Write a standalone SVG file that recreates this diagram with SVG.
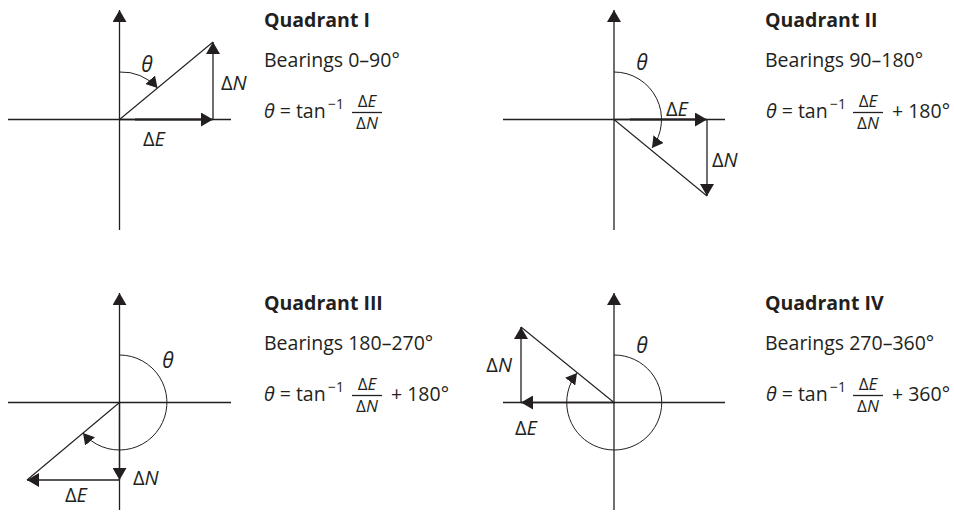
<svg xmlns="http://www.w3.org/2000/svg" width="954" height="512" viewBox="0 0 954 512">
<defs>
<marker id="ah" markerUnits="userSpaceOnUse" viewBox="0 0 12 14" refX="12" refY="7" markerWidth="12" markerHeight="14" orient="auto">
<path d="M0,0 L12,7 L0,14 z" fill="#231f20"/>
</marker>
<marker id="ahs" markerUnits="userSpaceOnUse" viewBox="0 0 12 14" refX="12" refY="7" markerWidth="11" markerHeight="13" orient="auto">
<path d="M0,0 L12,7 L0,14 z" fill="#231f20"/>
</marker>
</defs>
<style>
.ax{stroke:#231f20;stroke-width:1.3;fill:none}
.ln{stroke:#231f20;stroke-width:1.1;fill:none}
.vec{stroke:#231f20;stroke-width:1.3;fill:none;marker-end:url(#ah)}
.thick{stroke:#231f20;stroke-width:2.2;fill:none}
.arc{stroke:#231f20;stroke-width:1;fill:none;marker-end:url(#ahs)}
text{font-family:"Open Sans","Noto Sans","DejaVu Sans",sans-serif;fill:#231f20}
.title{font-size:19.5px;font-weight:bold}
.body{font-size:19.5px}
.lab{font-size:20px}
.th{font-size:21px;font-style:italic}
.frac{font-size:17px;text-anchor:middle}
.sup{font-size:14px}
.it{font-style:italic}
.fl{stroke:#231f20;stroke-width:1.3}
</style>

<g id="quadrant1">
<g id="q1-axes">
<path class="ax" d="M8,119.5 H231"/>
<path class="vec" d="M119.5,230 V10"/>
</g>
<g id="q1-connectors">
<path class="ln" d="M119.5,119.5 L213,42"/>
<path class="vec" d="M213,119.5 V42"/>
<path class="vec" d="M119.5,119.5 H213"/>
<path class="thick" d="M135,119.5 H201"/>
<path class="arc" d="M119.5,72 A47.5,47.5 0 0 1 157.5,88"/>
</g>
<text class="th" x="147" y="72" text-anchor="middle">θ</text>
<text class="lab" x="221" y="90">Δ<tspan class="it">N</tspan></text>
<text class="lab" x="143" y="146">Δ<tspan class="it">E</tspan></text>
<g id="q1-text">
<text class="title" x="264" y="27">Quadrant I</text>
<text class="body" x="264" y="67">Bearings 0–90°</text>
<text class="body" x="264" y="118"><tspan class="it">θ</tspan> = tan</text>
<text class="sup" x="328" y="109">−1</text>
<text class="frac" x="367" y="107">Δ<tspan class="it">E</tspan></text>
<line class="fl" x1="352" y1="112.5" x2="382" y2="112.5"/>
<text class="frac" x="367" y="129">Δ<tspan class="it">N</tspan></text>
</g>
</g>

<g id="quadrant2">
<g id="q2-axes">
<path class="ax" d="M503,119.5 H725"/>
<path class="vec" d="M614,230 V10"/>
</g>
<g id="q2-connectors">
<path class="ln" d="M614,119.5 L707,196"/>
<path class="vec" d="M707,119.5 V196"/>
<path class="vec" d="M614,119.5 H707"/>
<path class="thick" d="M630,119.5 H695"/>
<path class="arc" d="M614,72 A47.5,47.5 0 0 1 652,148"/>
</g>
<text class="th" x="642" y="70" text-anchor="middle">θ</text>
<text class="lab" x="666" y="116">Δ<tspan class="it">E</tspan></text>
<text class="lab" x="712" y="167">Δ<tspan class="it">N</tspan></text>
<g id="q2-text">
<text class="title" x="765" y="27">Quadrant II</text>
<text class="body" x="765" y="67">Bearings 90–180°</text>
<text class="body" x="766" y="118"><tspan class="it">θ</tspan> = tan</text>
<text class="sup" x="830" y="109">−1</text>
<text class="frac" x="868" y="107">Δ<tspan class="it">E</tspan></text>
<line class="fl" x1="853" y1="112.5" x2="883" y2="112.5"/>
<text class="frac" x="868" y="129">Δ<tspan class="it">N</tspan></text>
<text class="body" x="892" y="118">+ 180°</text>
</g>
</g>

<g id="quadrant3">
<g id="q3-axes">
<path class="ax" d="M8,402.5 H231"/>
<path class="vec" d="M119.5,510 V293"/>
</g>
<g id="q3-connectors">
<path class="ln" d="M119.5,402.5 L27,480"/>
<path class="vec" d="M119.5,402.5 V480"/>
<path class="vec" d="M119.5,480 H27"/>
<path class="arc" d="M119.5,355 A47.5,47.5 0 1 1 83,433"/>
</g>
<text class="th" x="168" y="368" text-anchor="middle">θ</text>
<text class="lab" x="133" y="485">Δ<tspan class="it">N</tspan></text>
<text class="lab" x="65" y="502">Δ<tspan class="it">E</tspan></text>
<g id="q3-text">
<text class="title" x="264" y="310">Quadrant III</text>
<text class="body" x="264" y="350">Bearings 180–270°</text>
<text class="body" x="264" y="401"><tspan class="it">θ</tspan> = tan</text>
<text class="sup" x="328" y="392">−1</text>
<text class="frac" x="367" y="390">Δ<tspan class="it">E</tspan></text>
<line class="fl" x1="352" y1="395.5" x2="382" y2="395.5"/>
<text class="frac" x="367" y="412">Δ<tspan class="it">N</tspan></text>
<text class="body" x="391" y="401">+ 180°</text>
</g>
</g>

<g id="quadrant4">
<g id="q4-axes">
<path class="ax" d="M503,402.5 H725"/>
<path class="vec" d="M614,510 V293"/>
</g>
<g id="q4-connectors">
<path class="ln" d="M614,402.5 L521,327"/>
<path class="vec" d="M614,402.5 H521"/>
<path class="vec" d="M521,402.5 V327"/>
<path class="arc" d="M614,355 A47.5,47.5 0 1 1 577,373"/>
</g>
<text class="th" x="642" y="353" text-anchor="middle">θ</text>
<text class="lab" x="512" y="372" text-anchor="end">Δ<tspan class="it">N</tspan></text>
<text class="lab" x="515" y="435">Δ<tspan class="it">E</tspan></text>
<g id="q4-text">
<text class="title" x="765" y="310">Quadrant IV</text>
<text class="body" x="765" y="350">Bearings 270–360°</text>
<text class="body" x="766" y="401"><tspan class="it">θ</tspan> = tan</text>
<text class="sup" x="830" y="392">−1</text>
<text class="frac" x="868" y="390">Δ<tspan class="it">E</tspan></text>
<line class="fl" x1="853" y1="395.5" x2="883" y2="395.5"/>
<text class="frac" x="868" y="412">Δ<tspan class="it">N</tspan></text>
<text class="body" x="892" y="401">+ 360°</text>
</g>
</g>
</svg>
